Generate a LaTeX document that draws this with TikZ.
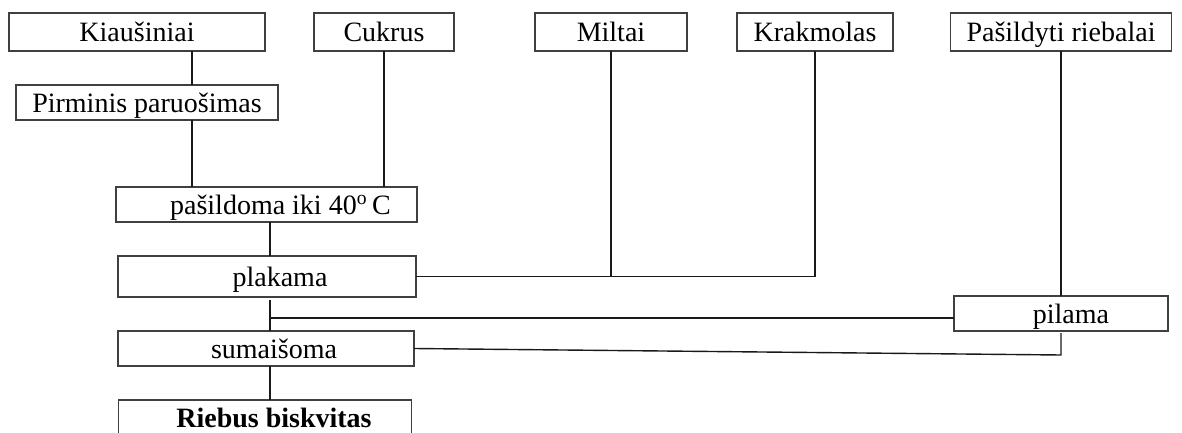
\documentclass[tikz,border=0pt]{standalone}
\usepackage{fontspec}
\setmainfont{Liberation Serif}
\begin{document}
\begin{tikzpicture}[x=0.5pt,y=-0.5pt,
  box/.style={draw=black!75, line width=0.55pt, rectangle, inner sep=0pt, outer sep=0pt,
              minimum height=17.5pt, text height=10pt, text depth=0pt,
              font=\fontsize{14}{16}\selectfont},
  link/.style={draw=black!90, line width=0.7pt}]
\useasboundingbox (0,0) rectangle (1182,433);

% ingredients (top row)
\node[box, minimum width=128pt, minimum height=19pt] (kia) at (137,32) {Kiaušiniai};
\node[box, minimum width=70pt,  minimum height=19pt] (cuk) at (384,32) {Cukrus};
\node[box, minimum width=76pt,  minimum height=19pt] (mil) at (611,32) {Miltai};
\node[box, minimum width=78pt,  minimum height=19pt] (kra) at (815,32) {Krakmolas};
\node[box, minimum width=110.5pt, minimum height=19pt] (pas) at (1061,32) {Pašildyti riebalai};

% process steps (labels sit a little right of centre)
\node[box, minimum width=131pt]   (pir)    at (147,102.5) {Pirminis paruošimas};
\node[box, minimum width=150.5pt] (pasild) at (266.5,204.5) {\hspace*{14pt}pašildoma iki 40\textsuperscript{o}\,C};
\node[box, minimum width=149pt, minimum height=20.5pt] (plak) at (267,276.5) {\hspace*{13pt}plakama};
\node[box, minimum width=107pt]   (pil)    at (1061,313.5) {\hspace*{10pt}pilama};
\node[box, minimum width=148pt]   (sum)    at (266,348.5) {\hspace*{8pt}sumaišoma};
\node[box, minimum width=146.5pt, font=\fontsize{14}{16}\selectfont\bfseries] (rie) at (265,417.5) {\hspace*{9pt}Riebus biskvitas};

% guide coordinates for the vertical runs
\coordinate (eggs)  at (192,0);
\coordinate (spine) at (270,0);
\coordinate (low)   at (0,355);
\coordinate (mid)   at (0,318);

% connectors
\draw[link] (kia.south -| eggs) -- (pir.north -| eggs);
\draw[link] (pir.south -| eggs) -- (pasild.north -| eggs);
\draw[link] (cuk.south) -- (pasild.north -| cuk.south);
\draw[link] (pasild.south -| spine) -- (plak.north -| spine);
\draw[link] (plak.east) -- (plak.east -| kra.south) -- (kra.south);
\draw[link] (mil.south) -- (mil.south |- plak.east);
\draw[link] (pas.south) -- (pil.north);
\draw[link] ([yshift=-1.5pt]plak.south -| spine) -- (sum.north -| spine);
\draw[link] (spine |- mid) -- (pil.west |- mid);
\draw[link] ([yshift=-1pt]pil.south) -- (pil.south |- low) -- (sum.east);
\draw[link] (sum.south -| spine) -- (rie.north -| spine);
\end{tikzpicture}
\end{document}
